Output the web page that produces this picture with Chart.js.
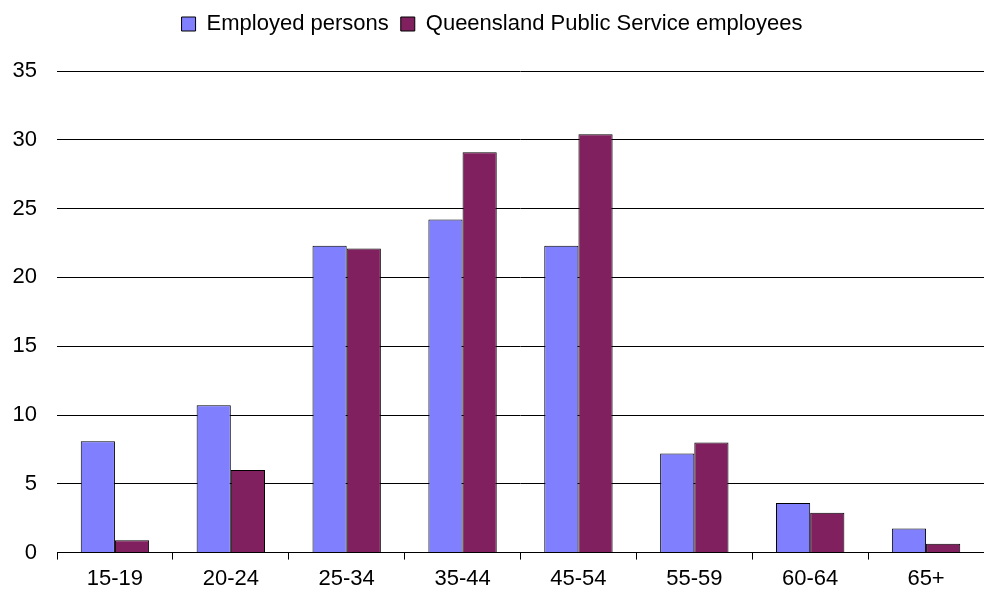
<!DOCTYPE html>
<html>
<head>
<script src="https://cdn.jsdelivr.net/npm/chart.js@4"></script>
<style>
  html, body { margin: 0; padding: 0; background: #fff; }
  #wrap { width: 984px; height: 598px; }
</style>
</head>
<body>
<div id="wrap"><canvas id="chart"></canvas></div>
<script>
const categories = ["15-19", "20-24", "25-34", "35-44", "45-54", "55-59", "60-64", "65+"];
const employedPersons = [8.1, 10.7, 22.3, 24.2, 22.3, 7.2, 3.6, 1.75];
const qpsEmployees = [0.9, 6.0, 22.1, 29.1, 30.4, 8.0, 2.9, 0.65];

Chart.defaults.font.family = "'Liberation Sans', Arial, sans-serif";
Chart.defaults.font.size = 22;
Chart.defaults.color = "#000";

new Chart(document.getElementById("chart").getContext("2d"), {
  type: "bar",
  data: {
    labels: categories,
    datasets: [
      {
        label: "Employed persons",
        data: employedPersons,
        backgroundColor: "#8080FF",
        borderColor: "#000",
        borderWidth: 1,
        categoryPercentage: 0.59,
        barPercentage: 1,
      },
      {
        label: "Queensland Public Service employees",
        data: qpsEmployees,
        backgroundColor: "#80205F",
        borderColor: "#000",
        borderWidth: 1,
        categoryPercentage: 0.59,
        barPercentage: 1,
      },
    ],
  },
  options: {
    responsive: true,
    maintainAspectRatio: false,
    animation: false,
    layout: { padding: { left: 0, right: 0, top: 1, bottom: 0 } },
    plugins: {
      legend: {
        labels: { boxWidth: 14, boxHeight: 14, padding: 12, font: { size: 22 } },
      },
      tooltip: { enabled: false },
    },
    scales: {
      x: {
        grid: { offset: true, drawOnChartArea: false, color: "#000", tickLength: 7 },
        border: { color: "#000" },
        ticks: { padding: 6 },
      },
      y: {
        min: 0,
        max: 35,
        afterFit: (s) => { s.width = 57; },
        grid: { color: "#000", drawTicks: false },
        border: { display: false },
        ticks: { stepSize: 5, padding: 20 },
      },
    },
  },
  plugins: [{
    id: "legendGap",
    beforeInit(chart) {
      const fit = chart.legend.fit;
      chart.legend.fit = function () { fit.bind(chart.legend)(); this.height += 26; };
    },
  }],
});
</script>
</body>
</html>
